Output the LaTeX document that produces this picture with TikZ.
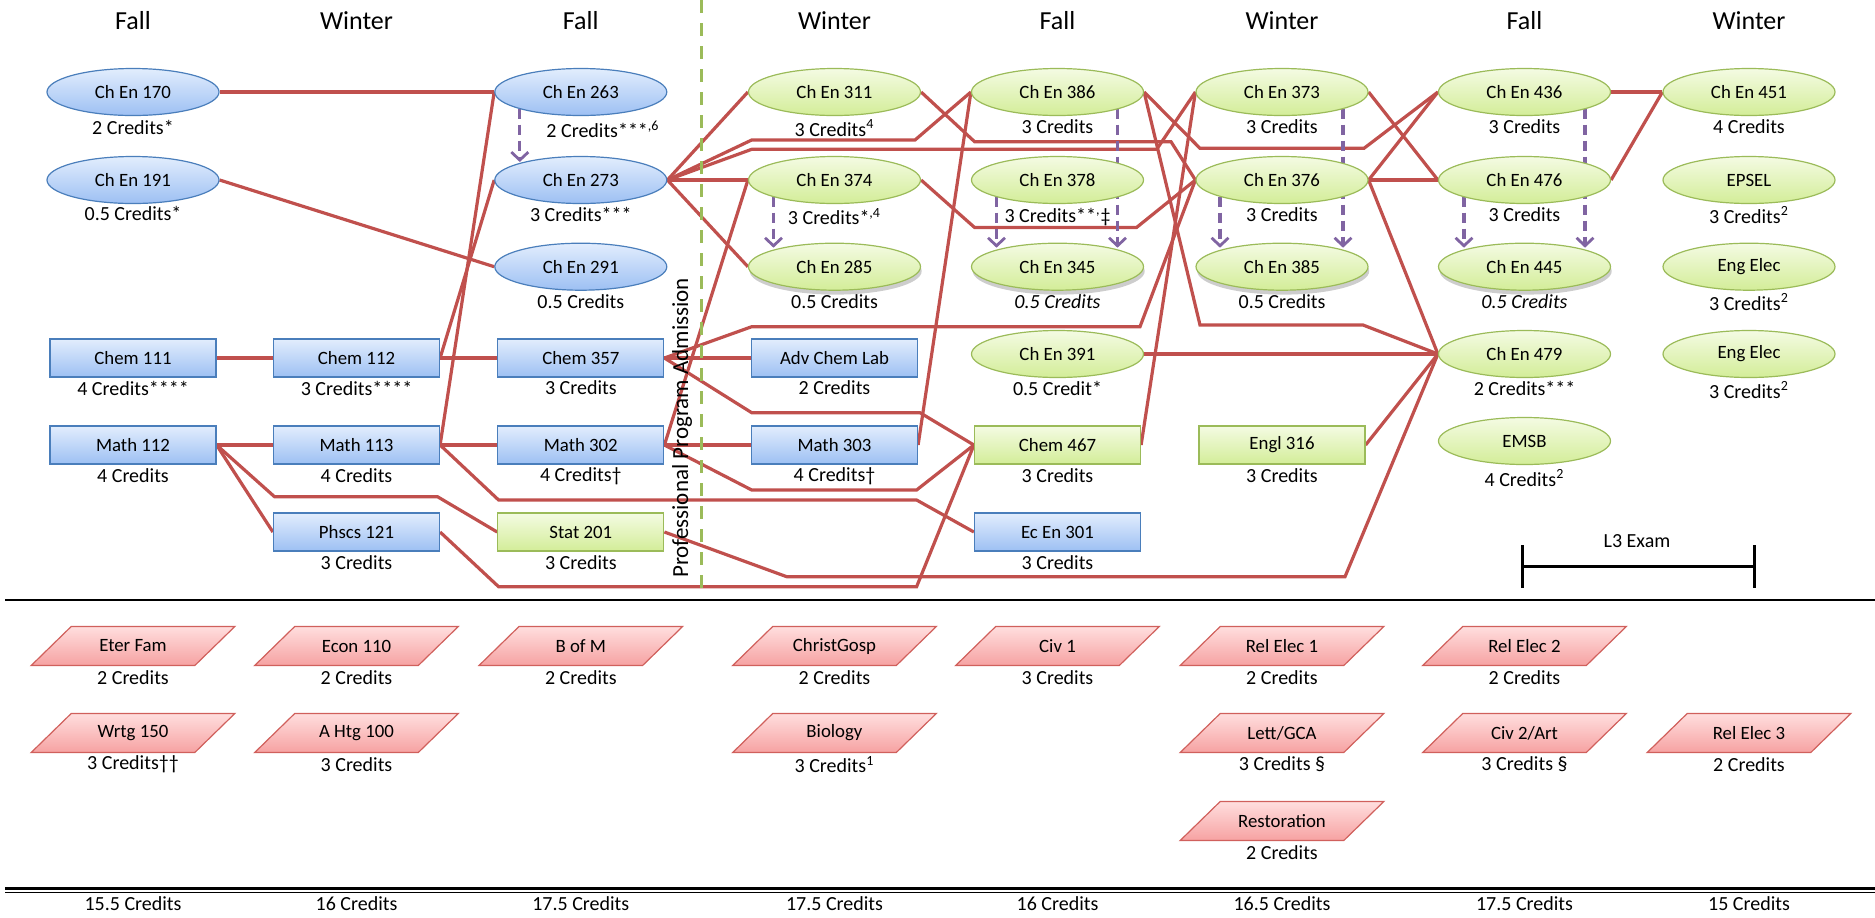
\documentclass[tikz,border=0pt]{standalone}
\usepackage{fontspec}
\setmainfont{Carlito}
\usetikzlibrary{calc,arrows.meta,shadows,shapes.geometric}
\definecolor{redline}{HTML}{C0504D}
\definecolor{purpleline}{HTML}{8064A2}
\definecolor{greendash}{HTML}{9BBB59}
\definecolor{blueedge}{HTML}{4A7EBB}
\definecolor{bluetop}{HTML}{E2EDFD}
\definecolor{bluebot}{HTML}{9DC0F3}
\definecolor{greenedge}{HTML}{9BBB59}
\definecolor{greentop}{HTML}{F4FBE3}
\definecolor{greenbot}{HTML}{D3ED98}
\definecolor{pinkedge}{HTML}{D0605C}
\definecolor{pinktop}{HTML}{FFDEDE}
\definecolor{pinkbot}{HTML}{F6A2A2}
\newcommand\fnode{\fontsize{9.4pt}{11pt}\selectfont}
\newcommand\fcred{\fontsize{10pt}{12pt}\selectfont}
\newcommand\fhdr{\fontsize{13pt}{15pt}\selectfont}
\newcommand\fadm{\fontsize{11.5pt}{13pt}\selectfont}
\pgfdeclarelayer{bg}
\pgfsetlayers{bg,main}
\tikzset{
  ellbase/.style={ellipse, minimum width=86pt, minimum height=23.5pt, inner sep=0pt, font=\fnode, line width=0.6pt},
  ellB/.style={ellbase, draw=blueedge, top color=bluetop, bottom color=bluebot},
  ellG/.style={ellbase, draw=greenedge, top color=greentop, bottom color=greenbot},
  shad/.style={drop shadow={shadow xshift=0.6pt, shadow yshift=-2.2pt, opacity=0.28, fill=black!70}},
  boxbase/.style={rectangle, minimum width=83pt, minimum height=19pt, inner sep=0pt, font=\fnode, line width=0.6pt},
  boxB/.style={boxbase, draw=blueedge, top color=bluetop, bottom color=bluebot},
  boxG/.style={boxbase, draw=greenedge, top color=greentop, bottom color=greenbot},
  cred/.style={font=\fcred, inner sep=0pt},
  hdr/.style={font=\fhdr, inner sep=0pt},
  ptext/.style={font=\fnode, inner sep=0pt},
  pshape/.style={draw=pinkedge, top color=pinktop, bottom color=pinkbot, line width=0.6pt},
  req/.style={draw=redline, line width=1.6pt, line join=miter},
  dep/.style={draw=purpleline, line width=1.6pt, dash pattern=on 5pt off 3pt, -{Straight Barb[length=4pt,width=8.5pt,line width=1.4pt]}},
}
\newcommand\crlab[4]{\node[cred] (#1) at (#2,#3) {#4};}
\newcommand\mkpara[6]{%
  \path[pshape] ($(#2,#3)+(-61.8,-19.5)$) -- ++(163.6,0) -- ++(-40,39) -- ++(-163.6,0) -- cycle;
  \node[ptext] (#1) at (#2,#3) {#4};
  \node[cred] (#5) at (#2,#3+31.5) {#6};
}
\begin{document}
\begin{tikzpicture}[x=0.5pt,y=-0.5pt]
\useasboundingbox (0,0) rectangle (1875,917);

% headers
\node[hdr] (h1) at (133,21) {Fall};
\node[hdr] (h2) at (356.5,21) {Winter};
\node[hdr] (h3) at (580.8,21) {Fall};
\node[hdr] (h4) at (834.5,21) {Winter};
\node[hdr] (h5) at (1057.5,21) {Fall};
\node[hdr] (h6) at (1282,21) {Winter};
\node[hdr] (h7) at (1524.5,21) {Fall};
\node[hdr] (h8) at (1749,21) {Winter};

% column 1
\node[ellB] (e170) at (133,92) {Ch En 170};
\crlab{l170}{133}{127}{2 Credits*}
\node[ellB] (e191) at (133,180) {Ch En 191};
\crlab{l191}{133}{213}{0.5 Credits*}
\node[boxB] (chem111) at (133,358) {Chem 111};
\crlab{lchem111}{133}{388}{4 Credits****}
\node[boxB] (math112) at (133,445) {Math 112};
\crlab{lmath112}{133}{476}{4 Credits}

% column 2
\node[boxB] (chem112) at (356.5,358) {Chem 112};
\crlab{lchem112}{356.5}{388}{3 Credits****}
\node[boxB] (math113) at (356.5,445) {Math 113};
\crlab{lmath113}{356.5}{476}{4 Credits}
\node[boxB] (phscs121) at (356.5,532) {Phscs 121};
\crlab{lphscs121}{356.5}{563}{3 Credits}

% column 3
\node[ellB] (e263) at (580.8,92) {Ch En 263};
\crlab{l263}{603}{129}{2 Credits***\textsuperscript{,6}}
\node[ellB] (e273) at (580.8,180) {Ch En 273};
\crlab{l273}{580.8}{214}{3 Credits***}
\node[ellB] (e291) at (580.8,266.7) {Ch En 291};
\crlab{l291}{580.8}{301.7}{0.5 Credits}
\node[boxB] (chem357) at (580.8,358) {Chem 357};
\crlab{lchem357}{580.8}{388}{3 Credits}
\node[boxB] (math302) at (580.8,445) {Math 302};
\crlab{lmath302}{580.8}{476}{4 Credits†}
\node[boxG] (stat201) at (580.8,532) {Stat 201};
\crlab{lstat201}{580.8}{563}{3 Credits}

% column 4
\node[ellG] (e311) at (834.5,92) {Ch En 311};
\crlab{l311}{834.5}{128}{3 Credits\textsuperscript{4}}
\node[ellG] (e374) at (834.5,180) {Ch En 374};
\crlab{l374}{834.5}{216.7}{3 Credits*\textsuperscript{,4}}
\node[ellG,shad] (e285) at (834.5,266.7) {Ch En 285};
\crlab{l285}{834.5}{301.7}{0.5 Credits}
\node[boxB] (advchem) at (834.5,358) {Adv Chem Lab};
\crlab{ladvchem}{834.5}{388}{2 Credits}
\node[boxB] (math303) at (834.5,445) {Math 303};
\crlab{lmath303}{834.5}{476}{4 Credits†}

% column 5
\node[ellG] (e386) at (1057.5,92) {Ch En 386};
\crlab{l386}{1057.5}{127}{3 Credits}
\node[ellG] (e378) at (1057.5,180) {Ch En 378};
\crlab{l378}{1057.5}{216.7}{3 Credits**\textsuperscript{,}‡}
\node[ellG,shad] (e345) at (1057.5,266.7) {Ch En 345};
\crlab{l345}{1057.5}{301.7}{\itshape 0.5 Credits}
\node[ellG] (e391) at (1057.5,354) {Ch En 391};
\crlab{l391}{1057.5}{388}{0.5 Credit*}
\node[boxG] (chem467) at (1057.5,445) {Chem 467};
\crlab{lchem467}{1057.5}{476}{3 Credits}
\node[boxB] (ecen301) at (1057.5,532) {Ec En 301};
\crlab{lecen301}{1057.5}{563}{3 Credits}

% column 6
\node[ellG] (e373) at (1282,92) {Ch En 373};
\crlab{l373}{1282}{127}{3 Credits}
\node[ellG] (e376) at (1282,180) {Ch En 376};
\crlab{l376}{1282}{215}{3 Credits}
\node[ellG,shad] (e385) at (1282,266.7) {Ch En 385};
\crlab{l385}{1282}{301.7}{0.5 Credits}
\node[boxG] (engl316) at (1282,445) {Engl 316};
\crlab{lengl316}{1282}{476}{3 Credits}

% column 7
\node[ellG] (e436) at (1524.5,92) {Ch En 436};
\crlab{l436}{1524.5}{127}{3 Credits}
\node[ellG] (e476) at (1524.5,180) {Ch En 476};
\crlab{l476}{1524.5}{215}{3 Credits}
\node[ellG,shad] (e445) at (1524.5,266.7) {Ch En 445};
\crlab{l445}{1524.5}{301.7}{\itshape 0.5 Credits}
\node[ellG] (e479) at (1524.5,354) {Ch En 479};
\crlab{l479}{1524.5}{388}{2 Credits***}
\node[ellG] (emsb) at (1524.5,441) {EMSB};
\crlab{lemsb}{1524.5}{478}{4 Credits\textsuperscript{2}}

% column 8
\node[ellG] (e451) at (1749,92) {Ch En 451};
\crlab{l451}{1749}{127}{4 Credits}
\node[ellG] (epsel) at (1749,180) {EPSEL};
\crlab{lepsel}{1749}{215}{3 Credits\textsuperscript{2}}
\node[ellG] (engelecA) at (1749,266.7) {Eng Elec};
\crlab{lengelecA}{1749}{302}{3 Credits\textsuperscript{2}}
\node[ellG] (engelecB) at (1749,354) {Eng Elec};
\crlab{lengelecB}{1749}{390}{3 Credits\textsuperscript{2}}

% admission
\node[font=\fadm, inner sep=0pt, rotate=90] (adm) at (682,428) {Professional Program Admission};
\coordinate (gtop) at (701,0);
\coordinate (gbot) at (701,591);
\draw[greendash, line width=1.5pt, dash pattern=on 6.5pt off 5pt] (gtop) -- (gbot);

% L3 exam
\coordinate (l3a) at (1522.6,566.7);
\coordinate (l3b) at (1754.7,566.7);
\draw[line width=1.5pt] (l3a) -- (l3b);
\draw[line width=1.5pt] ($(l3a)+(0,-21.5)$) -- ($(l3a)+(0,21.5)$);
\draw[line width=1.5pt] ($(l3b)+(0,-21.5)$) -- ($(l3b)+(0,21.5)$);
\node[cred] (l3) at (1637,541) {L3 Exam};

% separators
\coordinate (sepL) at (5,600);
\coordinate (sepR) at (1875,600);
\draw[line width=1.2pt] (sepL) -- (sepR);
\coordinate (dbL) at (5,888.5);
\coordinate (dbR) at (1875,888.5);
\draw[line width=1.5pt] (dbL) -- (dbR);
\coordinate (dbL2) at (5,892.6);
\coordinate (dbR2) at (1875,892.6);
\draw[line width=0.7pt] (dbL2) -- (dbR2);

% general education parallelograms
\mkpara{eterfam}{133}{646}{Eter Fam}{leterfam}{2 Credits}
\mkpara{wrtg}{133}{733}{Wrtg 150}{lwrtg}{3 Credits††}
\mkpara{econ}{356.5}{646}{Econ 110}{lecon}{2 Credits}
\mkpara{ahtg}{356.5}{733}{A Htg 100}{lahtg}{3 Credits}
\mkpara{bofm}{580.8}{646}{B of M}{lbofm}{2 Credits}
\mkpara{christ}{834.5}{646}{ChristGosp}{lchrist}{2 Credits}
\mkpara{bio}{834.5}{733}{Biology}{lbio}{3 Credits\textsuperscript{1}}
\mkpara{civ}{1057.5}{646}{Civ 1}{lciv}{3 Credits}
\mkpara{relA}{1282}{646}{Rel Elec 1}{lrelA}{2 Credits}
\mkpara{lett}{1282}{733}{Lett/GCA}{llett}{3 Credits §}
\mkpara{resto}{1282}{821}{Restoration}{lresto}{2 Credits}
\mkpara{relB}{1524.5}{646}{Rel Elec 2}{lrelB}{2 Credits}
\mkpara{civB}{1524.5}{733}{Civ 2/Art}{lcivB}{3 Credits §}
\mkpara{relC}{1749}{733}{Rel Elec 3}{lrelC}{2 Credits}

% semester totals
\node[cred] (t1) at (133,904) {15.5 Credits};
\node[cred] (t2) at (356.5,904) {16 Credits};
\node[cred] (t3) at (580.8,904) {17.5 Credits};
\node[cred] (t4) at (834.5,904) {17.5 Credits};
\node[cred] (t5) at (1057.5,904) {16 Credits};
\node[cred] (t6) at (1282,904) {16.5 Credits};
\node[cred] (t7) at (1524.5,904) {17.5 Credits};
\node[cred] (t8) at (1749,904) {15 Credits};

\begin{pgfonlayer}{bg}
% prerequisite connectors
\draw[req] (e170.east) -- (e263.west);
\draw[req] (e191.east) -- (e291.west);
\draw[req] (e263.west) -- (math113.east);
\draw[req] (e273.west) -- (chem112.east);
\draw[req] (chem111.east) -- (chem112.west);
\draw[req] (chem112.east) -- (chem357.west);
\draw[req] (math112.east) -- (math113.west);
\draw[req] (math113.east) -- (math302.west);
\draw[req] (math112.east) -- (274.5,496.7) -- (437.5,496.7) -- (stat201.west);
\draw[req] (math112.east) -- (phscs121.west);
\draw[req] (math113.east) -- (498.6,500) -- (916.6,500) -- (ecen301.west);
\draw[req] (phscs121.east) -- (498.6,586.7) -- (916.6,586.7) -- (chem467.west);
\draw[req] (stat201.east) -- (786.7,576.7) -- (1345,576.7) -- (e479.west);
\draw[req] (chem357.east) -- (advchem.west);
\draw[req] (chem357.east) -- (751.7,326.7) -- (1140,326.7) -- (e376.west);
\draw[req] (chem357.east) -- (751.7,412.7) -- (920,412.7) -- (chem467.west);
\draw[req] (math302.east) -- (e374.west);
\draw[req] (math302.east) -- (math303.west);
\draw[req] (math302.east) -- (751.7,490) -- (916.6,490) -- (chem467.west);
\draw[req] (e273.east) -- (e311.west);
\draw[req] (e273.east) -- (751.7,140) -- (915,140) -- (e386.west);
\draw[req] (e273.east) -- (751.7,149.3) -- (1156.7,149.3) -- (e373.west);
\draw[req] (e273.east) -- (e374.west);
\draw[req] (e273.east) -- (e285.west);
\draw[req] (e311.east) -- (974.6,141.7) -- (1171,141.7) -- (e376.west);
\draw[req] (e374.east) -- (974.6,227.5) -- (1136.5,227.5) -- (e376.west);
\draw[req] (math303.east) -- (e386.west);
\draw[req] (e386.east) -- (1200,148.3) -- (1364,148.3) -- (e436.west);
\draw[req] (e386.east) -- (1200,325) -- (1363,325) -- (e479.west);
\draw[req] (chem467.east) -- (e373.west);
\draw[req] (e391.east) -- (e479.west);
\draw[req] (engl316.east) -- (e479.west);
\draw[req] (e376.east) -- (e476.west);
\draw[req] (e376.east) -- (e436.west);
\draw[req] (e376.east) -- (e479.west);
\draw[req] (e373.east) -- (e476.west);
\draw[req] (e436.east) -- (e451.west);
\draw[req] (e476.east) -- (e451.west);
% co-requisite dashed arrows
\draw[dep] ($(e263.center)+(-61,16.6)$) -- ($(e273.center)+(-61,-18)$);
\draw[dep] ($(e374.center)+(-61,16.6)$) -- ($(e285.center)+(-61,-19)$);
\draw[dep] ($(e378.center)+(-61,16.6)$) -- ($(e345.center)+(-61,-19)$);
\draw[dep] ($(e386.center)+(60,16.6)$) -- ($(e345.center)+(60,-19)$);
\draw[dep] ($(e373.center)+(61,16.6)$) -- ($(e385.center)+(61,-19)$);
\draw[dep] ($(e376.center)+(-62,16.6)$) -- ($(e385.center)+(-62,-19)$);
\draw[dep] ($(e436.center)+(60.5,16.6)$) -- ($(e445.center)+(60.5,-19)$);
\draw[dep] ($(e476.center)+(-60.5,16.6)$) -- ($(e445.center)+(-60.5,-19)$);
\end{pgfonlayer}
\end{tikzpicture}
\end{document}
